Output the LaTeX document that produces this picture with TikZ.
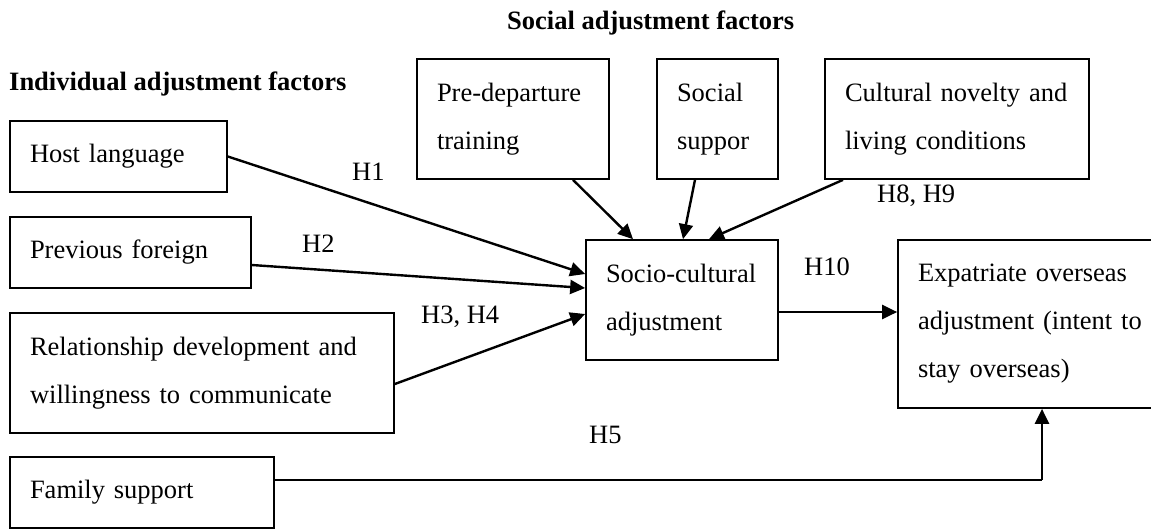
\documentclass[tikz,border=0pt]{standalone}
\usepackage{fontspec}
\setmainfont{Liberation Serif}
\usetikzlibrary{arrows.meta}
\begin{document}
\begin{tikzpicture}[x=1pt,y=-1pt,
  every node/.style={font=\fontsize{26.5}{48}\selectfont},
  factorbox/.style={draw, line width=1.7pt, inner xsep=20pt, inner ysep=0pt, align=left},
  hlabel/.style={anchor=base west, inner sep=0pt},
  link/.style={line width=2.4pt, -{Triangle[length=15pt,width=14pt]}},
  plainlink/.style={line width=1.7pt}
]
\useasboundingbox (0,0) rectangle (1151,528);

\node[hlabel, font=\fontsize{26.5}{48}\selectfont\bfseries] (indiv) at (9,90) {Individual adjustment factors};
\node[hlabel, font=\fontsize{26.5}{48}\selectfont\bfseries] (social) at (507,29) {Social adjustment factors};

\node[factorbox, minimum width=217pt, minimum height=71pt, text width=177pt] (host) at (118.5,156.5) {Host language};
\node[factorbox, minimum width=241pt, minimum height=71pt, text width=201pt] (prev) at (130.5,252.5) {Previous foreign};
\node[factorbox, minimum width=384pt, minimum height=120pt, text width=344pt] (rel) at (202,373) {Relationship development and\\willingness to communicate};
\node[factorbox, minimum width=264pt, minimum height=71pt, text width=224pt] (fam) at (142,492.5) {Family support};

\node[factorbox, minimum width=192pt, minimum height=120pt, text width=152pt] (pre) at (513,119) {Pre-departure\\training};
\node[factorbox, minimum width=121pt, minimum height=120pt, text width=81pt] (soc) at (717.5,119) {Social\\suppor};
\node[factorbox, minimum width=264pt, minimum height=120pt, text width=224pt] (cul) at (957,119) {Cultural novelty and\\living conditions};

\node[factorbox, minimum width=192pt, minimum height=120pt, text width=152pt] (socio) at (682,300) {\mbox{Socio-cultural}\\adjustment};
\node[factorbox, minimum width=255pt, minimum height=168pt, text width=215pt] (exp) at (1025.5,324) {Expatriate overseas\\\mbox{adjustment (intent to}\\stay overseas)};

\draw[link] (host.east) -- ([yshift=26pt]socio.west);
\draw[link] ([yshift=-12.5pt]prev.east) -- ([yshift=12pt]socio.west);
\draw[link] ([yshift=-11pt]rel.east) -- ([yshift=-14pt]socio.west);
\draw[link] ([xshift=60pt]pre.south) -- ([xshift=-49pt]socio.north);
\draw[link] ([xshift=-22.5pt]soc.south) -- ([xshift=1pt]socio.north);
\draw[link] ([xshift=-114pt]cul.south) -- ([xshift=27pt]socio.north);
\draw[link] ([yshift=-12pt]socio.east) -- ([yshift=12pt]exp.west);
\coordinate (famcorner) at (1042,480);
\draw[plainlink] ([yshift=12.5pt]fam.east) -- (famcorner);
\draw[link] (famcorner) -- (famcorner |- exp.south);

\node[hlabel] (h1) at (352,180) {H1};
\node[hlabel] (h2) at (302,252) {H2};
\node[hlabel] (h34) at (421,323) {H3, H4};
\node[hlabel] (h5) at (589,443) {H5};
\node[hlabel] (h89) at (877,202) {H8, H9};
\node[hlabel] (h10) at (804,275) {H10};
\end{tikzpicture}
\end{document}
